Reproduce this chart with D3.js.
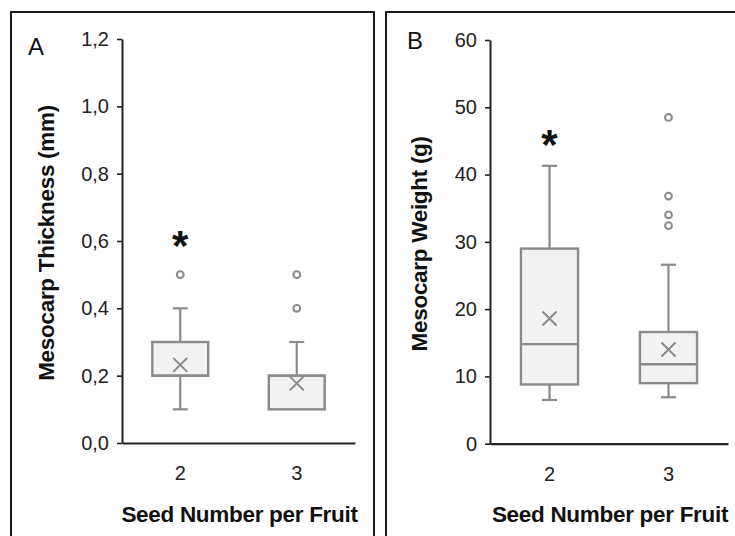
<!DOCTYPE html>
<html><head><meta charset="utf-8">
<script src="https://cdn.jsdelivr.net/npm/d3@7"></script>
<style>
html,body{margin:0;padding:0;background:#fff;}
svg{display:block;font-family:"Liberation Sans",Arial,sans-serif;}
</style></head>
<body>
<svg id="chart" width="735" height="536"></svg>
<script>
// ---- data ----
const categories = ["2", "3"];

// Panel A: Mesocarp Thickness (mm)
const thickWhiskerLow  = [0.1, 0.1];
const thickQ1          = [0.2, 0.1];
const thickMedian      = [0.2, 0.2];
const thickQ3          = [0.3, 0.2];
const thickWhiskerHigh = [0.4, 0.3];
const thickMean        = [0.232, 0.177];
const thickOutliers    = [[0.5], [0.4, 0.5]];
const thickSignif      = [0.6, null];
const thickTicks       = [0, 0.2, 0.4, 0.6, 0.8, 1.0, 1.2];

// Panel B: Mesocarp Weight (g)
const weightWhiskerLow  = [6.5, 6.9];
const weightQ1          = [8.8, 9.0];
const weightMedian      = [14.8, 11.8];
const weightQ3          = [29.0, 16.6];
const weightWhiskerHigh = [41.3, 26.6];
const weightMean        = [18.6, 14.0];
const weightOutliers    = [[], [32.4, 34.0, 36.8, 48.5]];
const weightSignif      = [45.1, null];
const weightTicks       = [0, 10, 20, 30, 40, 50, 60];

const panels = [
  {label:"A", frame:[11,12,374,560], left:122, right:355, top:39, bottom:443,
   domain:[0,1.2], ticks:thickTicks, fmt:d=>d3.format(".1f")(d).replace(".", ","),
   title:"Mesocarp Thickness (mm)", titleX:46, labelX:28, labelY:55,
   lo:thickWhiskerLow,q1:thickQ1,med:thickMedian,q3:thickQ3,hi:thickWhiskerHigh,
   mean:thickMean,out:thickOutliers,sig:thickSignif},
  {label:"B", frame:[386,12,760,560], left:490, right:728, top:40, bottom:443.7,
   domain:[0,60], ticks:weightTicks, fmt:d=>String(d),
   title:"Mesocarp Weight (g)", titleX:419, labelX:407, labelY:49,
   lo:weightWhiskerLow,q1:weightQ1,med:weightMedian,q3:weightQ3,hi:weightWhiskerHigh,
   mean:weightMean,out:weightOutliers,sig:weightSignif}
];

const svg = d3.select("#chart");
const boxStroke = "#8a8a8a", boxFill = "#f2f2f2", axisCol = "#222";

panels.forEach(p => {
  const g = svg.append("g");
  g.append("rect").attr("x",p.frame[0]).attr("y",p.frame[1])
    .attr("width",p.frame[2]-p.frame[0]).attr("height",p.frame[3]-p.frame[1])
    .attr("fill","none").attr("stroke","#000").attr("stroke-width",1.8);

  const x = d3.scaleBand().domain(categories).range([p.left,p.right]);
  const y = d3.scaleLinear().domain(p.domain).range([p.bottom,p.top]);
  const bw = x.bandwidth()*0.48;
  const cx = c => x(c)+x.bandwidth()/2;

  // y axis
  const ya = g.append("g").attr("transform",`translate(${p.left},0)`)
    .call(d3.axisLeft(y).tickValues(p.ticks).tickFormat(p.fmt).tickSize(5).tickSizeOuter(0).tickPadding(8));
  ya.select(".domain").attr("stroke",axisCol).attr("stroke-width",2);
  ya.selectAll(".tick line").attr("stroke",axisCol).attr("stroke-width",1.6);
  ya.selectAll(".tick text").attr("font-size",20).attr("fill","#222")
    .attr("font-family","'Liberation Sans',Arial,sans-serif");

  // x axis
  const xa = g.append("g").attr("transform",`translate(0,${p.bottom})`)
    .call(d3.axisBottom(x).tickSize(0).tickPadding(23));
  xa.select(".domain").attr("stroke",axisCol).attr("stroke-width",2.2);
  xa.selectAll(".tick text").attr("font-size",20).attr("fill","#222")
    .attr("font-family","'Liberation Sans',Arial,sans-serif");

  categories.forEach((c,i) => {
    const xc = cx(c);
    // whiskers
    if (p.hi[i] > p.q3[i]) {
      g.append("line").attr("x1",xc).attr("x2",xc).attr("y1",y(p.q3[i])).attr("y2",y(p.hi[i]))
        .attr("stroke",boxStroke).attr("stroke-width",2.2);
      g.append("line").attr("x1",xc-7.5).attr("x2",xc+7.5).attr("y1",y(p.hi[i])).attr("y2",y(p.hi[i]))
        .attr("stroke",boxStroke).attr("stroke-width",2.2);
    }
    if (p.lo[i] < p.q1[i]) {
      g.append("line").attr("x1",xc).attr("x2",xc).attr("y1",y(p.q1[i])).attr("y2",y(p.lo[i]))
        .attr("stroke",boxStroke).attr("stroke-width",2.2);
      g.append("line").attr("x1",xc-7.5).attr("x2",xc+7.5).attr("y1",y(p.lo[i])).attr("y2",y(p.lo[i]))
        .attr("stroke",boxStroke).attr("stroke-width",2.2);
    }
    // box
    g.append("rect").attr("x",xc-bw/2).attr("y",y(p.q3[i]))
      .attr("width",bw).attr("height",y(p.q1[i])-y(p.q3[i]))
      .attr("fill",boxFill).attr("stroke",boxStroke).attr("stroke-width",2.4);
    // median
    g.append("line").attr("x1",xc-bw/2).attr("x2",xc+bw/2)
      .attr("y1",y(p.med[i])).attr("y2",y(p.med[i]))
      .attr("stroke",boxStroke).attr("stroke-width",2.4);
    // mean x
    const my = y(p.mean[i]), s = 7;
    g.append("path").attr("d",`M${xc-s},${my-s}L${xc+s},${my+s}M${xc-s},${my+s}L${xc+s},${my-s}`)
      .attr("stroke",boxStroke).attr("stroke-width",2).attr("fill","none");
    // outliers
    p.out[i].forEach(v => {
      g.append("circle").attr("cx",xc).attr("cy",y(v)).attr("r",3.4)
        .attr("fill","#fff").attr("stroke",boxStroke).attr("stroke-width",2);
    });
    // significance
    if (p.sig[i] != null) {
      g.append("text").attr("x",xc).attr("y",y(p.sig[i])+19).attr("text-anchor","middle")
        .attr("font-size",42).attr("font-weight","bold").attr("fill","#111").text("*");
    }
  });

  // titles
  g.append("text").attr("transform",`translate(${p.titleX+8},${(p.top+p.bottom)/2+2}) rotate(-90)`)
    .attr("text-anchor","middle").attr("font-size",22.5).attr("font-weight","bold").attr("fill","#111")
    .attr("letter-spacing",-0.3).text(p.title);
  g.append("text").attr("x",(p.left+p.right)/2 + 1).attr("y",522).attr("text-anchor","middle")
    .attr("font-size",22.5).attr("font-weight","bold").attr("fill","#111").attr("letter-spacing",-0.3)
    .text("Seed Number per Fruit");
  g.append("text").attr("x",p.labelX).attr("y",p.labelY).attr("font-size",24).attr("fill","#111")
    .text(p.label);
});
</script>
</body></html>
